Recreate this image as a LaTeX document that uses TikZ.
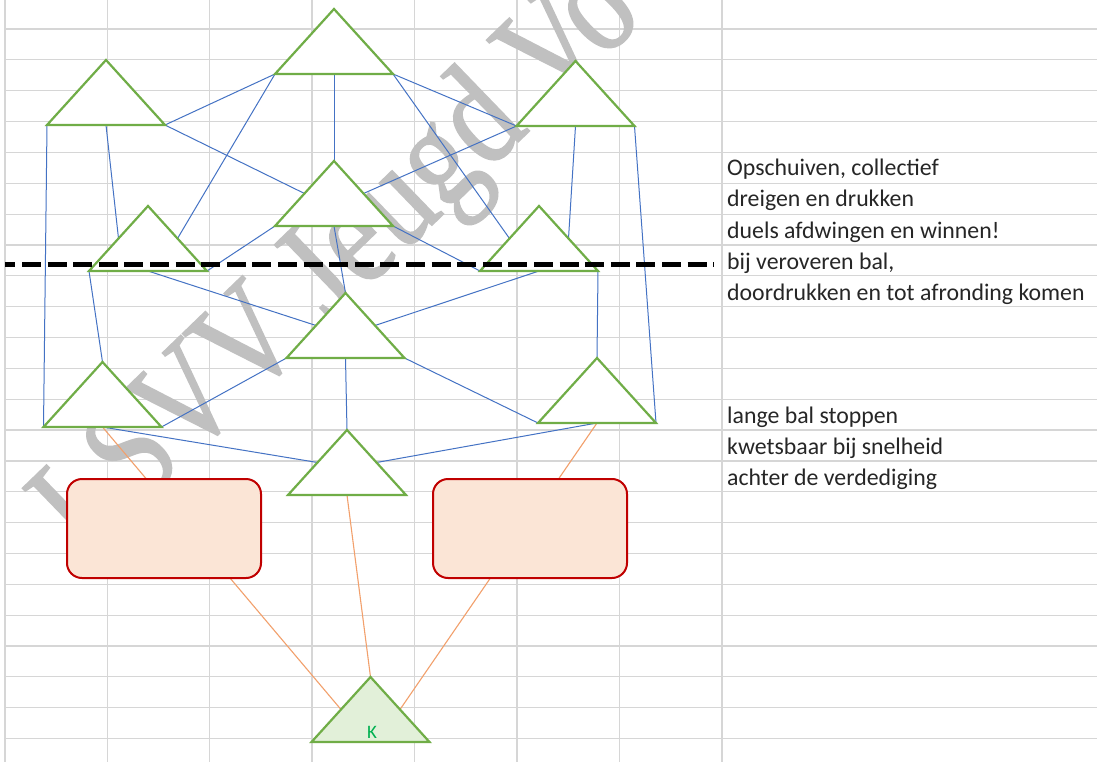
\documentclass[tikz,border=0pt]{standalone}
\usepackage{fontspec}
\setmainfont{Carlito}
\newfontfamily\wmfont[FakeStretch=0.82,FakeBold=1.2]{Liberation Serif}
\usetikzlibrary{calc}
\definecolor{gridc}{HTML}{D6D6D6}
\definecolor{trigreen}{HTML}{70AD47}
\definecolor{linkblue}{HTML}{4472C4}
\definecolor{linkorange}{HTML}{F2A06C}
\definecolor{boxred}{HTML}{C00000}
\definecolor{boxfill}{HTML}{FBE5D6}
\definecolor{kfill}{HTML}{E2F0D9}
\definecolor{ktext}{HTML}{00B050}
\definecolor{wmgray}{HTML}{C0C0C0}
\tikzset{
  gridline/.style={draw=gridc, line width=1.2pt},
  trishape/.style={draw=trigreen, line width=2.2pt, fill=white, line join=miter},
  blue link/.style={draw=linkblue, line width=1pt},
  orange link/.style={draw=linkorange, line width=1.1pt},
  rbox/.style={draw=boxred, line width=2pt, fill=boxfill, rounded corners=15pt,
    minimum width=194pt, minimum height=99pt, inner sep=0pt},
  notetext/.style={anchor=base west, inner sep=0pt, font=\fontsize{23.8}{28}\selectfont, text=black!85},
  halfline/.style={draw=black, line width=5pt, dash pattern=on 19pt off 6.6pt, dash phase=8.6pt},
}
% triangle: name, base-centre x, base-centre y
\newcommand\MkTri[3]{%
  \coordinate (#1-bc) at (#2,#3);
  \coordinate (#1-bl) at ($(#1-bc)+(-59,0)$);
  \coordinate (#1-br) at ($(#1-bc)+(59,0)$);
  \coordinate (#1-ap) at ($(#1-bc)+(0,-65)$);
  \coordinate (#1-lm) at ($(#1-bc)+(-29.5,-32.5)$);
  \coordinate (#1-rm) at ($(#1-bc)+(29.5,-32.5)$);
}
\newcommand\DrawTri[2][]{\path[trishape,#1] (#2-bl) -- (#2-br) -- (#2-ap) -- cycle;}
\begin{document}
\begin{tikzpicture}[x=1pt,y=-1pt]
\useasboundingbox (0,0) rectangle (1097,762);
\fill[white] (0,0) rectangle (1097,762);
% spreadsheet grid
\foreach \gx in {5,107.3,209.7,312,414.5,517,619.5,722}
  \draw[gridline] (\gx,0) -- (\gx,762);
\foreach \k in {0,...,23}
  \draw[gridline] (5,{29+30.85*\k}) -- (1097,{29+30.85*\k});
% watermark
\begin{scope}
  \clip (0,0) rectangle (1097,762);
  \node[rotate=44, anchor=base west, inner sep=0pt, text=wmgray,
        font=\wmfont\fontsize{145}{145}\selectfont] (wm) at (86,559) {LSVV Jeugd Vo};
\end{scope}
% triangle geometry
\MkTri{T1}{334}{74}
\MkTri{T2}{106}{125}
\MkTri{T3}{575.5}{126}
\MkTri{T4}{334}{226}
\MkTri{T5}{148}{271}
\MkTri{T6}{539}{271}
\MkTri{T7}{345.5}{358}
\MkTri{T8}{102.5}{427}
\MkTri{T9}{597}{423}
\MkTri{T10}{347}{495}
\MkTri{K}{370.5}{742}
% blue connectors
\draw[blue link] (T2-bl) -- (T8-bl);
\draw[blue link] (T2-bc) -- (T5-lm);
\draw[blue link] (T2-br) -- (T1-bl);
\draw[blue link] (T2-br) -- (T4-lm);
\draw[blue link] (T1-bl) -- (T5-rm);
\draw[blue link] (T1-bc) -- (T4-ap);
\draw[blue link] (T1-br) -- (T3-bl);
\draw[blue link] (T1-br) -- (T6-lm);
\draw[blue link] (T3-bl) -- (T4-rm);
\draw[blue link] (T3-bc) -- (T6-rm);
\draw[blue link] (T3-br) -- (T9-br);
\draw[blue link] (T4-bl) -- (T5-br);
\draw[blue link] (T4-br) -- (T6-bl);
\draw[blue link] (T4-bc) -- (T7-ap);
\draw[blue link] (T5-bl) -- (T8-ap);
\draw[blue link] (T5-bc) -- (T7-lm);
\draw[blue link] (T6-bc) -- (T7-rm);
\draw[blue link] (T6-br) -- (T9-ap);
\draw[blue link] (T7-bl) -- (T8-br);
\draw[blue link] (T7-br) -- (T9-bl);
\draw[blue link] (T7-bc) -- (T10-ap);
\draw[blue link] (T8-bc) -- (T10-lm);
\draw[blue link] (T9-bc) -- (T10-rm);
% orange connectors
\draw[orange link] (T8-bc) -- (K-lm);
\draw[orange link] (T9-bc) -- (K-rm);
\draw[orange link] (T10-bc) -- (K-ap);
% triangles
\foreach \t in {T1,T2,T3,T4,T5,T6,T7,T8,T9,T10} {\DrawTri{\t}}
\DrawTri[fill=kfill]{K}
\node[inner sep=0pt, text=ktext, font=\fontsize{19}{19}\selectfont, anchor=base] (klabel) at (372,738) {K};
% boxes
\node[rbox] (R1) at (164,528.5) {};
\node[rbox] (R2) at (530,528.5) {};
% dashed line
\coordinate (dashL) at (5,264);
\coordinate (dashR) at (714,264);
\draw[halfline] (dashL) -- (dashR);
% notes
\node[notetext] (n1) at (727,176) {Opschuiven, collectief};
\node[notetext] (n2) at (727,207) {dreigen en drukken};
\node[notetext] (n3) at (727,238) {duels afdwingen en winnen!};
\node[notetext] (n4) at (727,269) {bij veroveren bal,};
\node[notetext] (n5) at (727,300) {doordrukken en tot afronding komen};
\node[notetext] (n6) at (727,423) {lange bal stoppen};
\node[notetext] (n7) at (727,454) {kwetsbaar bij snelheid};
\node[notetext] (n8) at (727,485) {achter de verdediging};
\end{tikzpicture}
\end{document}
